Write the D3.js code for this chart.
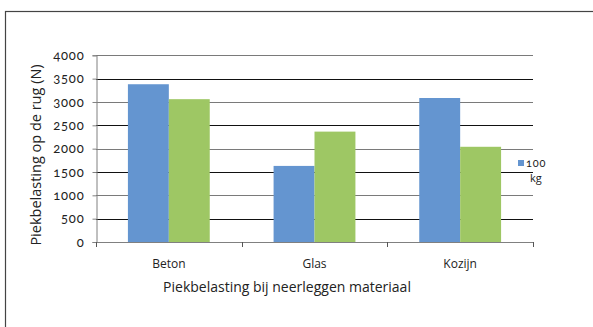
<!DOCTYPE html>
<html>
<head>
<meta charset="utf-8">
<script src="https://cdn.jsdelivr.net/npm/d3@7"></script>
<style>
  body { margin: 0; background: #fff; }
  text { font-family: "Open Sans", "Lato", sans-serif; fill: #222; }
  .num { font-family: "Lato", sans-serif; font-feature-settings: "onum" 1; font-variant-numeric: oldstyle-nums; letter-spacing: 0.8px; }
</style>
</head>
<body>
<svg id="chart" width="593" height="327"></svg>
<script>
var categories = ['Beton', 'Glas', 'Kozijn']
var series = ['100 kg', '80 kg']
var values100 = [3380, 1630, 3085]
var values80 = [3060, 2365, 2040]
var yTicks = [0, 500, 1000, 1500, 2000, 2500, 3000, 3500, 4000]
var colors = ['#6495d0', '#9ec764']

var svg = d3.select('#chart')

// outer frame (runs off the right and bottom edge)
svg.append('rect')
    .attr('x', 5.5).attr('y', 11.5)
    .attr('width', 600).attr('height', 330)
    .attr('fill', 'none')
    .attr('stroke', '#444')
    .attr('stroke-width', 1.2)

var x = d3.scaleBand()
    .domain(categories)
    .range([96, 533])

var xInner = d3.scaleBand()
    .domain(series)
    .range([0, x.bandwidth()])
    .paddingOuter(0.78)
    .paddingInner(0)

var y = d3.scaleLinear()
    .domain([0, 4000])
    .range([242, 55.3])

// gridlines
svg.append('g')
    .selectAll('line')
    .data(yTicks.filter(function (d) { return d > 0 }))
    .enter()
    .append('line')
    .attr('x1', 96).attr('x2', 533)
    .attr('y1', function (d) { return Math.round(y(d)) + 0.5 })
    .attr('y2', function (d) { return Math.round(y(d)) + 0.5 })
    .attr('stroke', function (d) { return d % 1000 === 0 ? '#7a7a7a' : '#111' })
    .attr('stroke-width', 1)

// bars
var rows = categories.map(function (c, i) {
    return { cat: c, vals: [values100[i], values80[i]] }
})

var groups = svg.selectAll('.grp')
    .data(rows)
    .enter()
    .append('g')
    .attr('class', 'grp')
    .attr('transform', function (d) { return 'translate(' + x(d.cat) + ',0)' })

groups.selectAll('rect')
    .data(function (d) { return d.vals.map(function (v, j) { return { s: series[j], v: v, j: j } }) })
    .enter()
    .append('rect')
    .attr('x', function (d) { return xInner(d.s) })
    .attr('width', xInner.bandwidth())
    .attr('y', function (d) { return y(d.v) })
    .attr('height', function (d) { return y(0) - y(d.v) })
    .attr('fill', function (d) { return colors[d.j] })

// y axis
var yAxis = svg.append('g')
    .attr('transform', 'translate(96.5,0)')
    .call(d3.axisLeft(y).tickValues(yTicks).tickSize(4).tickPadding(8).tickFormat(d3.format('d')))
yAxis.select('.domain').attr('stroke', '#808080')
yAxis.selectAll('.tick line').attr('stroke', '#808080')
yAxis.selectAll('.tick text')
    .attr('class', 'num')
    .style('font-size', '13px')
    .attr('fill', '#333')

// x axis
var xAxis = svg.append('g')
    .attr('transform', 'translate(0,242.5)')
    .call(d3.axisBottom(x).tickSize(0).tickPadding(17))
xAxis.select('.domain').attr('stroke', '#808080').attr('d', 'M96,0H533')
xAxis.selectAll('.tick text').style('font-size', '12px').attr('fill', '#333')

svg.append('g')
    .selectAll('line')
    .data([96, 241.7, 387.3, 533])
    .enter()
    .append('line')
    .attr('x1', function (d) { return Math.round(d) + 0.5 })
    .attr('x2', function (d) { return Math.round(d) + 0.5 })
    .attr('y1', 242).attr('y2', 247)
    .attr('stroke', '#555')

// axis titles
svg.append('text')
    .attr('x', 287).attr('y', 292)
    .attr('text-anchor', 'middle')
    .style('font-size', '14px')
    .text('Piekbelasting bij neerleggen materiaal')

svg.append('text')
    .attr('transform', 'translate(41,155) rotate(-90)')
    .attr('text-anchor', 'middle')
    .style('font-size', '14.5px')
    .text('Piekbelasting op de rug (N)')

// legend (only the first series shows, as in the original)
var legend = svg.append('g').attr('transform', 'translate(518,160)')
legend.append('rect')
    .attr('x', 0).attr('y', 0)
    .attr('width', 6).attr('height', 6)
    .attr('fill', colors[0])
legend.append('text')
    .attr('class', 'num')
    .attr('x', 8).attr('y', 7)
    .style('font-size', '11px')
    .text('100')
legend.append('text')
    .attr('x', 12).attr('y', 22)
    .style('font-size', '11px')
    .text('kg')
</script>
</body>
</html>
